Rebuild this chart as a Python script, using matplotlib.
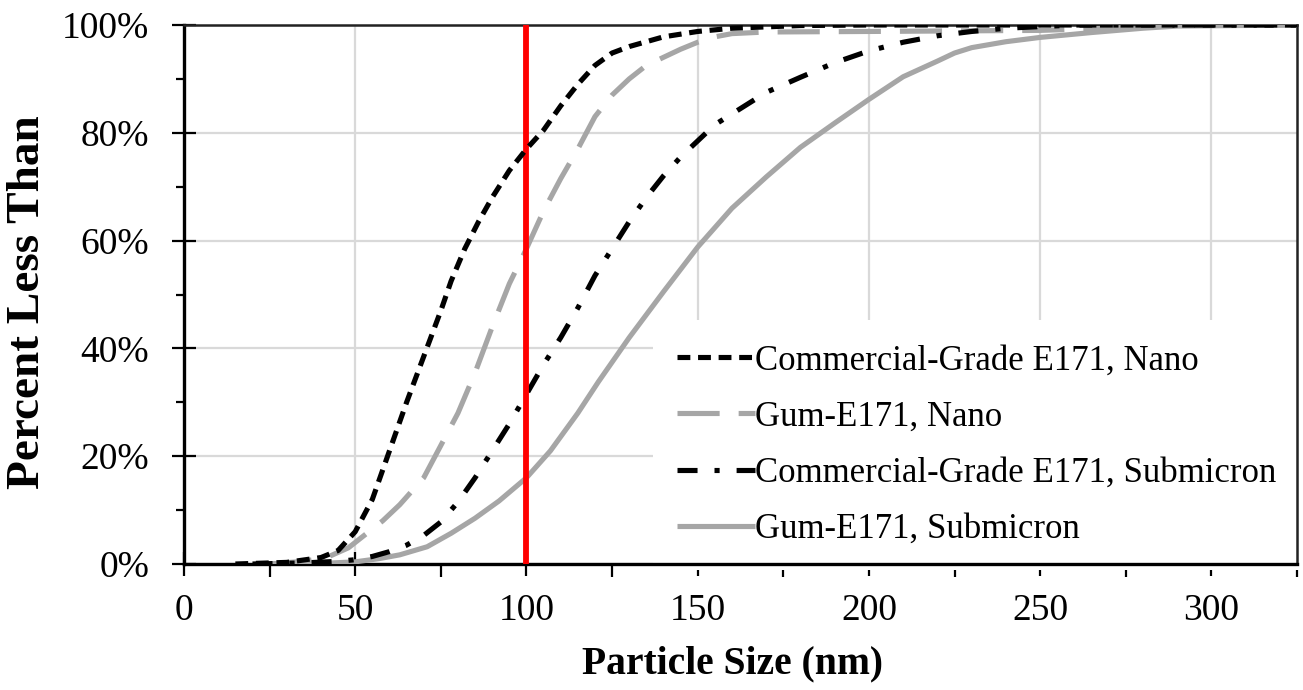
import matplotlib
matplotlib.use("Agg")
import matplotlib.pyplot as plt
from matplotlib.ticker import MultipleLocator, FuncFormatter

# ---- data ----
labels = ["Commercial-Grade E171, Nano", "Gum-E171, Nano",
          "Commercial-Grade E171, Submicron", "Gum-E171, Submicron"]

cg_nano_x = [15, 30, 40, 45, 50, 55, 60, 65, 70, 75, 78, 82, 86, 90, 95, 100, 105, 110, 115,
             120, 125, 130, 140, 150, 160, 180, 200, 325]
cg_nano_y = [0, 0.3, 1.2, 2.5, 6, 12, 21, 30, 38.5, 47, 52.5, 58.5, 63.5, 68, 73, 77, 80.5,
             85, 89, 92.5, 94.8, 96, 97.8, 98.8, 99.4, 99.9, 100, 100]

gum_nano_x = [25, 35, 42, 48, 53, 58, 63, 70, 75, 80, 85, 90, 95, 100, 105, 110, 115, 120,
              125, 130, 135, 140, 145, 150, 155, 160, 170, 200, 250, 270, 290, 325]
gum_nano_y = [0, 0.5, 1.3, 3, 5.5, 8, 11, 16, 22, 28, 35.5, 44, 52, 58.5, 65.5, 71.5, 77, 83,
              87, 90, 92.5, 94, 95.5, 96.8, 97.8, 98.4, 98.7, 98.8, 99.0, 99.4, 100, 100]

cg_sub_x = [20, 35, 45, 50, 55, 60, 65, 70, 75, 80, 85, 90, 95, 100, 105, 110, 115, 120, 125,
            130, 135, 140, 145, 150, 155, 160, 170, 180, 190, 200, 210, 220, 230, 240, 260, 325]
cg_sub_y = [0, 0.2, 0.5, 0.8, 1.4, 2.3, 3.5, 5.3, 7.8, 11.5, 16, 21, 26, 31.5, 37, 42, 47.5,
            53.5, 58.5, 63.5, 68, 72, 75.5, 78.5, 81.5, 83.5, 87.5, 90.3, 93, 95.2, 96.8, 98,
            98.8, 99.4, 100, 100]

gum_sub_x = [25, 40, 50, 57, 63, 71, 78, 85, 92, 100, 107, 115, 121, 130, 140, 150, 160, 170,
             180, 190, 200, 210, 220, 225, 230, 240, 250, 265, 280, 290, 325]
gum_sub_y = [0, 0.1, 0.4, 1.0, 1.7, 3.2, 5.7, 8.5, 11.7, 16, 21, 28, 33.8, 42, 50.5, 58.8, 66,
             71.8, 77.3, 81.8, 86.2, 90.4, 93.3, 94.8, 95.8, 96.9, 97.7, 98.6, 99.4, 99.8, 100]

threshold_nm = 100
x_ticks = [0, 50, 100, 150, 200, 250, 300]
y_ticks = [0, 20, 40, 60, 80, 100]

# ---- styling ----
plt.rcParams['font.family'] = ['Liberation Serif', 'DejaVu Serif']
BLACK = '#000000'
GREY = '#A6A6A6'
LW = 3.7

fig = plt.figure(figsize=(13.03, 6.90), dpi=100)
ax = fig.add_axes([184 / 1303, 1 - 564 / 690, (1297 - 184) / 1303, (564 - 25) / 690])

l4, = ax.plot(gum_sub_x, gum_sub_y, color=GREY, lw=LW, solid_capstyle='butt', zorder=3)
l3, = ax.plot(cg_sub_x, cg_sub_y, color=BLACK, lw=LW, dashes=(3.9, 3.3, 1.0, 3.3),
              zorder=4)
l2, = ax.plot(gum_nano_x, gum_nano_y, color=GREY, lw=LW, dashes=(8.2, 3.7),
              zorder=3.5)
ax.axvline(threshold_nm, color='#FF0000', lw=4.2, zorder=4.5)
l1, = ax.plot(cg_nano_x, cg_nano_y, color=BLACK, lw=LW, dashes=(2.5, 1.5),
              zorder=5)

ax.set_xlim(0, 325)
ax.set_ylim(0, 100)
ax.set_xticks(x_ticks)
ax.set_yticks(y_ticks)
ax.xaxis.set_minor_locator(MultipleLocator(25))
ax.yaxis.set_minor_locator(MultipleLocator(10))
ax.yaxis.set_major_formatter(FuncFormatter(lambda v, p: f"{v:.0f}%"))

ax.grid(True, which='major', color='#D9D9D9', lw=1.6, zorder=0)
ax.set_axisbelow(True)

for side in ['left', 'bottom']:
    ax.spines[side].set_linewidth(2.4)
for side in ['top', 'right']:
    ax.spines[side].set_linewidth(1.8)
    ax.spines[side].set_color('#222222')

ax.tick_params(axis='both', which='major', direction='inout', length=17, width=1.6,
               labelsize=27, color='black')
ax.tick_params(axis='x', which='major', pad=12.5)
ax.tick_params(axis='y', which='major', pad=16.5)
ax.tick_params(axis='x', which='minor', direction='out', length=9, width=1.6)
ax.tick_params(axis='y', which='minor', direction='out', length=6, width=1.6)
ax.tick_params(top=False, right=False, which='both')

ax.set_xlabel("Particle Size (nm)", fontsize=28.5, fontweight='bold', va='center')
ax.xaxis.set_label_coords(0.4924, -0.185)
ax.set_ylabel("Percent Less Than", fontsize=34, fontweight='bold', va='center')
ax.yaxis.set_label_coords(-0.14, 0.485)

leg = ax.legend([l1, l2, l3, l4], labels, loc='upper left',
                bbox_to_anchor=((653 - 184) / 1113, (564 - 320) / 539),
                borderaxespad=0, fontsize=25, handlelength=2.25, handletextpad=0.0,
                labelspacing=0.67, borderpad=0.7, frameon=True, fancybox=False,
                facecolor='white', edgecolor='none', framealpha=1)
leg.set_zorder(2.2)

fig.savefig("out.png", dpi=100)
